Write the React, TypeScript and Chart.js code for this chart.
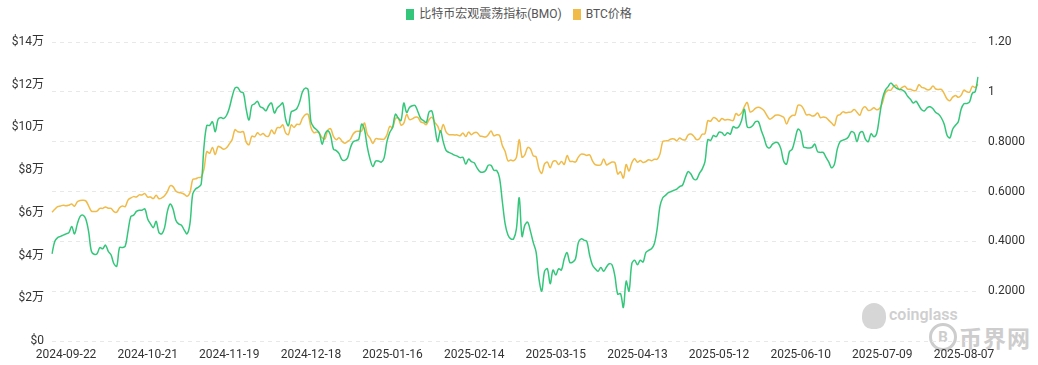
import React, { useEffect, useRef } from 'react';
import { Chart, registerables } from 'chart.js';

Chart.register(...registerables);

const START_DATE = '2024-09-17';
const DAY_COUNT = 330;

const TICK_LABELS = [
  '2024-09-22', '2024-10-21', '2024-11-19', '2024-12-18', '2025-01-16', '2025-02-14',
  '2025-03-15', '2025-04-13', '2025-05-12', '2025-06-10', '2025-07-09', '2025-08-07',
];

const SERIES_NAMES = ['比特币宏观震荡指标(BMO)', 'BTC价格'];

const BMO_VALUES = [
  0.35, 0.40, 0.415, 0.42, 0.425, 0.43, 0.435, 0.46, 0.43, 0.47,
  0.50, 0.505, 0.49, 0.44, 0.36, 0.348, 0.35, 0.375, 0.37, 0.385,
  0.36, 0.345, 0.31, 0.30, 0.375, 0.375, 0.38, 0.44, 0.50, 0.505,
  0.52, 0.525, 0.525, 0.53, 0.49, 0.47, 0.455, 0.48, 0.435, 0.43,
  0.455, 0.52, 0.55, 0.53, 0.485, 0.47, 0.465, 0.445, 0.43, 0.47,
  0.59, 0.61, 0.617, 0.63, 0.78, 0.865, 0.865, 0.88, 0.84, 0.89,
  0.897, 0.893, 0.905, 0.935, 0.98, 1.015, 1.017, 1.0, 0.995, 0.93,
  0.887, 0.945, 0.952, 0.962, 0.94, 0.935, 0.924, 0.945, 0.955, 0.915,
  0.935, 0.945, 0.955, 0.89, 0.864, 0.92, 0.925, 0.933, 0.96, 1.0,
  1.015, 1.008, 0.88, 0.858, 0.848, 0.834, 0.79, 0.83, 0.844, 0.824,
  0.77, 0.764, 0.752, 0.728, 0.725, 0.735, 0.775, 0.80, 0.804, 0.81,
  0.87, 0.85, 0.78, 0.73, 0.70, 0.722, 0.722, 0.718, 0.735, 0.80,
  0.837, 0.857, 0.91, 0.895, 0.885, 0.955, 0.917, 0.937, 0.944, 0.945,
  0.92, 0.893, 0.884, 0.877, 0.92, 0.922, 0.86, 0.80, 0.845, 0.80,
  0.765, 0.757, 0.752, 0.746, 0.742, 0.736, 0.737, 0.71, 0.73, 0.72,
  0.715, 0.695, 0.68, 0.677, 0.683, 0.705, 0.705, 0.685, 0.684, 0.655,
  0.56, 0.47, 0.425, 0.41, 0.41, 0.45, 0.575, 0.42, 0.465, 0.477,
  0.44, 0.395, 0.357, 0.25, 0.20, 0.28, 0.29, 0.23, 0.285, 0.265,
  0.29, 0.285, 0.33, 0.355, 0.315, 0.317, 0.33, 0.395, 0.41, 0.405,
  0.40, 0.345, 0.305, 0.29, 0.28, 0.295, 0.28, 0.297, 0.31, 0.305,
  0.26, 0.188, 0.19, 0.135, 0.24, 0.20, 0.31, 0.324, 0.306, 0.324,
  0.317, 0.355, 0.364, 0.37, 0.39, 0.45, 0.54, 0.575, 0.585, 0.595,
  0.60, 0.605, 0.61, 0.62, 0.625, 0.655, 0.68, 0.67, 0.65, 0.648,
  0.672, 0.69, 0.72, 0.808, 0.805, 0.825, 0.82, 0.838, 0.836, 0.825,
  0.836, 0.83, 0.86, 0.855, 0.86, 0.885, 0.93, 0.86, 0.857, 0.865,
  0.88, 0.88, 0.845, 0.815, 0.78, 0.775, 0.79, 0.797, 0.795, 0.77,
  0.72, 0.71, 0.76, 0.77, 0.81, 0.85, 0.84, 0.78, 0.776, 0.775,
  0.777, 0.79, 0.76, 0.757, 0.757, 0.737, 0.718, 0.695, 0.71, 0.77,
  0.80, 0.806, 0.81, 0.82, 0.84, 0.835, 0.80, 0.835, 0.84, 0.81,
  0.80, 0.832, 0.82, 0.833, 0.90, 0.97, 1.005, 1.02, 1.035, 1.025,
  1.015, 1.01, 1.008, 1.0, 0.982, 0.97, 0.955, 0.962, 0.945, 0.928,
  0.924, 0.937, 0.94, 0.932, 0.917, 0.91, 0.895, 0.87, 0.826, 0.815,
  0.85, 0.866, 0.88, 0.93, 0.952, 0.953, 0.96, 0.995, 1.0, 1.06,
];

const BTC_PRICES = [
  // 2024-09-17 .. 09-30
  60300, 61700, 62900, 63200, 63600, 63300, 63600, 64100, 63100, 65200, 65800, 65900, 65600, 63300,
  // Oct
  60800, 60600, 60800, 62100, 62100, 62800, 62200, 62100, 60600, 60300, 62400, 63200, 62900, 66000, 67000, 67600,
  67400, 68400, 68400, 69000, 67400, 67400, 66700, 68200, 66600, 67000, 68000, 69900, 72700, 72300, 70200,
  // Nov
  69500, 69300, 68700, 67800, 69400, 75600, 75900, 76500, 76700, 80500, 88700, 87900, 90600, 87300, 91100,
  90600, 89800, 90500, 92300, 94300, 98900, 98000, 97800, 98000, 93100, 91900, 95900, 95600, 97500, 96400,
  // Dec
  97200, 95900, 96000, 98800, 97000, 99900, 99900, 101200, 97400, 96700, 101200, 100000, 101500, 101400, 104300,
  106000, 106100, 100000, 97500, 97800, 97200, 95100, 94700, 98700, 99400, 95800, 94200, 95200, 93600, 92600, 93400,
  // Jan
  94400, 96900, 98100, 98200, 98300, 102100, 96900, 95000, 92500, 94700, 94600, 94500, 94500, 96500, 100500,
  99900, 104100, 104400, 101100, 102000, 106100, 103700, 104000, 104800, 104700, 102600, 102100, 101300, 103700, 104700, 102400,
  // Feb
  100700, 97700, 101400, 97900, 96600, 96600, 96500, 96500, 96100, 97400, 95700, 97800, 96600, 97500,
  97600, 96100, 95800, 95500, 96600, 98300, 96100, 96600, 96300, 91500, 88700, 84300, 84700, 84400,
  // Mar
  86000, 94300, 86100, 87200, 90600, 89900, 86700, 86200, 80700, 78500, 82900, 83700, 81100, 84000, 84300,
  82600, 84000, 82700, 86800, 84200, 84100, 83800, 86100, 87500, 87400, 86900, 87200, 84400, 82600, 82300, 82500,
  // Apr
  85200, 82500, 83100, 83800, 83500, 78200, 79200, 76300, 82600, 79600, 83400, 85300, 83700, 84500, 83600,
  84000, 84900, 84400, 85100, 85100, 87500, 93400, 93700, 93900, 94600, 94600, 93800, 95000, 94300, 94200,
  // May
  96500, 96900, 95900, 94300, 94700, 96800, 97000, 103200, 102900, 104600, 104100, 102800, 104200, 103500, 103700,
  103500, 103200, 106500, 105600, 106800, 109700, 111700, 107300, 107800, 109000, 109400, 108900, 107800, 105600, 103900, 104600,
  // Jun
  105700, 105800, 105400, 104700, 101600, 104400, 105600, 105800, 110300, 110300, 108700, 105900, 106100, 105400, 105600,
  106800, 104600, 104900, 104600, 103300, 102100, 100900, 105400, 106000, 107300, 106900, 107100, 107300, 108400, 107100,
  // Jul
  105700, 108800, 109600, 108000, 108200, 109200, 108300, 108900, 111300, 115900, 117500, 117400, 119100, 119800, 117700,
  118700, 119300, 117900, 117900, 117300, 117400, 120000, 118800, 118400, 117600, 117900, 119400, 118000, 117800, 117800, 115800,
  // Aug 1..12
  113300, 112500, 114200, 115000, 114100, 115000, 117500, 116700, 116500, 119300, 118700, 120200,
];

const GREEN = '#34c77b';
const ORANGE = '#f0bb48';
const FONT = 'Roboto, "Noto Sans CJK SC", sans-serif';

function buildDates(): string[] {
  const out: string[] = [];
  const start = new Date(START_DATE + 'T00:00:00Z').getTime();
  for (let i = 0; i < DAY_COUNT; i++) {
    out.push(new Date(start + i * 86400000).toISOString().slice(0, 10));
  }
  return out;
}

function bmoLabel(v: number): string {
  const n = Math.round(v * 100) / 100;
  if (n === 0) return '';
  if (n === 1.2) return '1.20';
  if (n === 1) return '1';
  return n.toFixed(4);
}

export default function App() {
  const canvasRef = useRef<HTMLCanvasElement | null>(null);

  useEffect(() => {
    if (!canvasRef.current) return;
    const labels = buildDates();
    const tickSet = new Set(TICK_LABELS);
    const chart = new Chart(canvasRef.current, {
      type: 'line',
      data: {
        labels,
        datasets: [
          {
            label: SERIES_NAMES[0],
            data: BMO_VALUES,
            yAxisID: 'y1',
            borderColor: GREEN,
            backgroundColor: GREEN,
            borderWidth: 1.5,
            pointRadius: 0,
            tension: 0.35,
          },
          {
            label: SERIES_NAMES[1],
            data: BTC_PRICES,
            yAxisID: 'y',
            borderColor: ORANGE,
            backgroundColor: ORANGE,
            borderWidth: 1.5,
            pointRadius: 0,
            tension: 0.35,
          },
        ],
      },
      options: {
        animation: false,
        responsive: true,
        maintainAspectRatio: false,
        layout: { padding: { top: 42, left: 0, right: 0, bottom: 0 } },
        plugins: {
          legend: { display: false },
          tooltip: { enabled: false },
        },
        scales: {
          x: {
            type: 'category',
            grid: { display: false, drawTicks: false },
            border: { display: false },
            ticks: {
              autoSkip: false,
              maxRotation: 0,
              minRotation: 0,
              padding: 7,
              color: '#333',
              font: { size: 12, family: FONT },
              callback: (_v: any, i: number) => (tickSet.has(labels[i]) ? labels[i] : ''),
            },
            afterFit: (s: any) => { s.height = 24; },
          },
          y: {
            position: 'left',
            min: 0,
            max: 140000,
            grid: { display: false, drawTicks: false },
            border: { display: false },
            ticks: {
              stepSize: 20000,
              padding: 8,
              color: '#333',
              font: { size: 12, family: FONT },
              callback: (v: any) => (Number(v) === 0 ? '$0' : '$' + Number(v) / 10000 + '万'),
            },
            afterFit: (s: any) => { s.width = 52; },
          },
          y1: {
            position: 'right',
            min: 0,
            max: 1.2,
            grid: { display: true, color: '#e8e8e8', drawTicks: false, lineWidth: 1 },
            border: { display: false, dash: [4, 4] },
            ticks: {
              stepSize: 0.2,
              padding: 10,
              color: '#333',
              font: { size: 12, family: FONT },
              callback: (v: any) => bmoLabel(Number(v)),
            },
            afterFit: (s: any) => { s.width = 60; },
          },
        },
      },
    });
    return () => chart.destroy();
  }, []);

  const legendItem = (color: string, text: string) => (
    <div style={{ display: 'flex', alignItems: 'center', marginRight: 11 }}>
      <span style={{ display: 'inline-block', width: 8, height: 11, background: color, marginRight: 5 }} />
      <span style={{ fontSize: 12, color: '#555', fontFamily: FONT, lineHeight: '14px' }}>{text}</span>
    </div>
  );

  return (
    <div style={{ position: 'absolute', left: 0, top: 0, width: 1038, height: 365, background: '#fff', overflow: 'hidden' }}>
      <div style={{ position: 'absolute', left: 0, top: 7, width: 1038, display: 'flex', justifyContent: 'center', paddingLeft: 11, boxSizing: 'border-box' }}>
        {legendItem(GREEN, SERIES_NAMES[0])}
        {legendItem(ORANGE, SERIES_NAMES[1])}
      </div>
      <div style={{ position: 'absolute', left: 862, top: 303, width: 24, height: 26, borderRadius: '50% 50% 40% 40%', background: '#d6d6d6' }} />
      <div style={{ position: 'absolute', left: 889, top: 305, fontFamily: FONT, fontSize: 16, fontWeight: 600, color: '#cfcfcf' }}>coinglass</div>
      <div style={{ position: 'absolute', left: 929, top: 323, width: 22, height: 22, borderRadius: '50%', border: '3px solid #cdcdcd', color: '#cdcdcd', fontFamily: FONT, fontWeight: 700, fontSize: 15, lineHeight: '22px', textAlign: 'center' }}>B</div>
      <div style={{ position: 'absolute', left: 959, top: 320, fontFamily: '"Noto Sans CJK SC", sans-serif', fontSize: 23, fontWeight: 700, color: '#cdcdcd', letterSpacing: 1 }}>币界网</div>
      <div style={{ position: 'absolute', left: 0, top: 0, width: 1038, height: 365 }}>
        <canvas ref={canvasRef} />
      </div>
    </div>
  );
}
